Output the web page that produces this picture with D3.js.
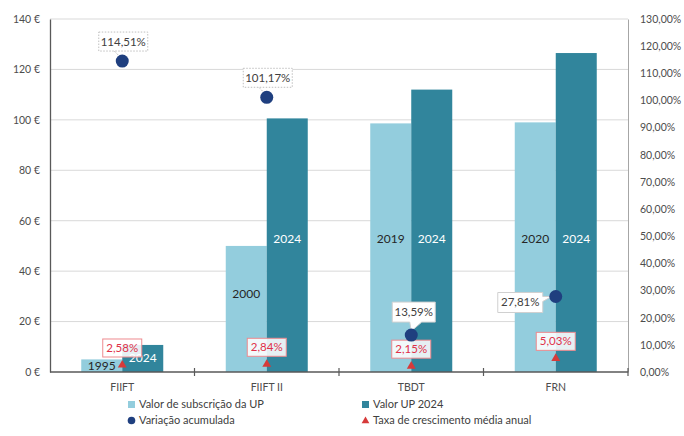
<!DOCTYPE html>
<html>
<head>
<meta charset="utf-8">
<script src="https://cdn.jsdelivr.net/npm/d3@7"></script>
<style>
  html, body { margin: 0; padding: 0; background: #fff; }
  svg { display: block; font-family: Lato, "Open Sans", sans-serif; }
</style>
</head>
<body>
<svg id="chart" width="684" height="436"></svg>
<script>
// Fundos: valor de subscrição da UP vs. valor em 2024
const categories = ["FIIFT", "FIIFT II", "TBDT", "FRN"];
const startYears = ["1995", "2000", "2019", "2020"];
const endYear = "2024";
const subscriptionValue = [5.00, 50.00, 98.6, 99.0];      // €
const value2024 = [10.73, 100.58, 112.0, 126.5];          // €
const cumulativeChange = [114.51, 101.17, 13.59, 27.81];  // %
const annualGrowth = [2.58, 2.84, 2.15, 5.03];            // %
const leftTicks = [0, 20, 40, 60, 80, 100, 120, 140];
const rightTicks = d3.range(0, 131, 10);

const svg = d3.select("#chart");
const m = { left: 50, right: 628, top: 19, bottom: 372 };

const x = d3.scaleBand().domain(categories).range([m.left, m.right]);
const yL = d3.scaleLinear().domain([0, 140]).range([m.bottom, m.top]);
const yR = d3.scaleLinear().domain([0, 130]).range([m.bottom, m.top]);
const barW = 41;

const fmtPct = v => v.toFixed(2).replace(".", ",") + "%";
const colLight = "#93cddd", colDark = "#31859c", colDot = "#1f3f7f", colTri = "#d63a3a";

// gridlines
svg.append("g").selectAll("line").data(leftTicks.filter(d => d > 0)).join("line")
  .attr("x1", m.left).attr("x2", m.right)
  .attr("y1", d => yL(d)).attr("y2", d => yL(d))
  .attr("stroke", "#d9d9d9").attr("stroke-width", 1);

// left axis
const gL = svg.append("g").attr("transform", `translate(${m.left},0)`)
  .call(d3.axisLeft(yL).tickValues(leftTicks).tickSize(0).tickPadding(10).tickFormat(d => d + " €"));
gL.select(".domain").attr("stroke", "#595959").attr("stroke-width", 1.3);
gL.selectAll("text").attr("fill", "#4d4d4d").style("font-size", "10.5px").style("font-family", "Lato, sans-serif");

// right axis
const gR = svg.append("g").attr("transform", `translate(${m.right},0)`)
  .call(d3.axisRight(yR).tickValues(rightTicks).tickSize(0).tickPadding(12).tickFormat(d => d.toFixed(2).replace(".", ",") + "%"));
gR.select(".domain").attr("stroke", "#a6a6a6").attr("stroke-width", 1);
gR.selectAll("text").attr("fill", "#4d4d4d").style("font-size", "10.5px").style("font-family", "Lato, sans-serif");

// bars
const groups = svg.append("g").selectAll("g").data(categories).join("g");
groups.append("rect")
  .attr("x", (d) => x(d) + x.bandwidth() / 2 - barW)
  .attr("width", barW)
  .attr("y", (d, i) => yL(subscriptionValue[i]))
  .attr("height", (d, i) => yL(0) - yL(subscriptionValue[i]))
  .attr("fill", colLight);
groups.append("rect")
  .attr("x", (d) => x(d) + x.bandwidth() / 2)
  .attr("width", barW)
  .attr("y", (d, i) => yL(value2024[i]))
  .attr("height", (d, i) => yL(0) - yL(value2024[i]))
  .attr("fill", colDark);

// year labels inside bars
const yearLabelY = (v, i, light) => {
  if (i === 0) return yL(v / 2) + 4;
  if (i === 1 && light) return yL(v / 2) - 11;
  return 239 + 4;
};
groups.append("text")
  .attr("x", d => x(d) + x.bandwidth() / 2 - barW / 2)
  .attr("y", (d, i) => yearLabelY(subscriptionValue[i], i, true))
  .attr("text-anchor", "middle").attr("fill", "#262626")
  .style("font-size", "12px")
  .text((d, i) => startYears[i]);
groups.append("text")
  .attr("x", d => x(d) + x.bandwidth() / 2 + barW / 2)
  .attr("y", (d, i) => yearLabelY(value2024[i], i, false))
  .attr("text-anchor", "middle").attr("fill", "#ffffff")
  .style("font-size", "12px")
  .text(endYear);

// bottom axis
const gB = svg.append("g").attr("transform", `translate(0,${m.bottom})`);
gB.append("line").attr("x1", m.left).attr("x2", m.right).attr("stroke", "#595959").attr("stroke-width", 1.3);
gB.selectAll(".tk").data(categories.slice(1).concat(["end"])).join("line")
  .attr("x1", (d, i) => m.left + x.step() * (i + 1)).attr("x2", (d, i) => m.left + x.step() * (i + 1))
  .attr("y1", -4).attr("y2", 4).attr("stroke", "#595959").attr("stroke-width", 1.2);
gB.selectAll("text").data(categories).join("text")
  .attr("x", d => x(d) + x.bandwidth() / 2).attr("y", 19)
  .attr("text-anchor", "middle").attr("fill", "#4d4d4d")
  .style("font-size", "10.5px").text(d => d);

// annual growth triangles + red labels
const tri = d3.symbol().type(d3.symbolTriangle).size(34);
const triG = svg.append("g").selectAll("g").data(categories).join("g");
triG.append("path")
  .attr("d", tri)
  .attr("transform", (d, i) => `translate(${x(d) + x.bandwidth() / 2},${yR(annualGrowth[i])})`)
  .attr("fill", colTri);
triG.append("rect")
  .attr("x", d => x(d) + x.bandwidth() / 2 - 19.5)
  .attr("y", (d, i) => yR(annualGrowth[i]) - 26)
  .attr("width", 39).attr("height", 18)
  .attr("fill", "rgba(255,255,255,0.88)")
  .attr("stroke", "#ee8a8f").attr("stroke-width", 1);
triG.append("text")
  .attr("x", d => x(d) + x.bandwidth() / 2)
  .attr("y", (d, i) => yR(annualGrowth[i]) - 13)
  .attr("text-anchor", "middle").attr("fill", "#e0314a")
  .style("font-size", "11.5px")
  .text((d, i) => fmtPct(annualGrowth[i]));

// cumulative change dots + labels
const dotX = d => x(d) + x.bandwidth() / 2;
const dotG = svg.append("g");
categories.forEach((c, i) => {
  const cx = dotX(c), cy = yR(cumulativeChange[i]);
  const label = fmtPct(cumulativeChange[i]);
  const w = 49, h = 19;
  if (i < 2) {
    // dotted box above with dashed leader
    const bx = cx + 1 - w / 2, by = cy - 29;
    dotG.append("line").attr("x1", cx - 8).attr("y1", by + h).attr("x2", cx - 2).attr("y2", cy - 4)
      .attr("stroke", "#bfbfbf").attr("stroke-dasharray", "2,1.5");
    dotG.append("rect").attr("x", bx).attr("y", by).attr("width", w).attr("height", h)
      .attr("fill", "#fff").attr("stroke", "#bfbfbf").attr("stroke-dasharray", "1.5,1.5");
    dotG.append("text").attr("x", bx + w / 2).attr("y", by + 14).attr("text-anchor", "middle")
      .attr("fill", "#404040").style("font-size", "11.5px").text(label);
  } else if (i === 2) {
    // callout above, pointer down to the dot
    const bx = cx + 3 - 22, by = cy - 33, bw = 43, bh = 20;
    const p = `M${bx},${by} h${bw} v${bh} h${-bw / 2 + 8} L${cx},${cy - 4} L${bx + bw / 2 - 4},${by + bh} H${bx} Z`;
    dotG.append("path").attr("d", p).attr("fill", "#fff").attr("stroke", "#d0d0d0");
    dotG.append("text").attr("x", bx + bw / 2).attr("y", by + 14).attr("text-anchor", "middle")
      .attr("fill", "#404040").style("font-size", "11.5px").text(label);
  } else {
    // callout to the left, pointer right to the dot
    const bw = 45, bh = 20, bx = cx - 58, by = cy - 4;
    const p = `M${bx},${by} h${bw} v4 L${cx - 4},${cy} L${bx + bw},${by + 9} V${by + bh} H${bx} Z`;
    dotG.append("path").attr("d", p).attr("fill", "#fff").attr("stroke", "#d0d0d0");
    dotG.append("text").attr("x", bx + bw / 2).attr("y", by + 14).attr("text-anchor", "middle")
      .attr("fill", "#404040").style("font-size", "11.5px").text(label);
  }
  dotG.append("circle").attr("cx", cx).attr("cy", cy).attr("r", 6.5).attr("fill", colDot);
});

// legend
const legend = [
  { label: "Valor de subscrição da UP", kind: "rect", color: colLight, x: 128, y: 408 },
  { label: "Valor UP 2024", kind: "rect", color: colDark, x: 362, y: 408 },
  { label: "Variação acumulada", kind: "circle", color: colDot, x: 128, y: 424 },
  { label: "Taxa de crescimento média anual", kind: "tri", color: colTri, x: 362, y: 424 }
];
const lg = svg.append("g").selectAll("g").data(legend).join("g")
  .attr("transform", d => `translate(${d.x},${d.y})`);
lg.each(function (d) {
  const g = d3.select(this);
  if (d.kind === "rect") g.append("rect").attr("x", 0).attr("y", -7).attr("width", 7).attr("height", 7).attr("fill", d.color);
  else if (d.kind === "circle") g.append("circle").attr("cx", 3.5).attr("cy", -3.5).attr("r", 3.8).attr("fill", d.color);
  else g.append("path").attr("d", d3.symbol().type(d3.symbolTriangle).size(26)).attr("transform", "translate(3.5,-3)").attr("fill", d.color);
  g.append("text").attr("x", 11).attr("y", 0).attr("fill", "#404040").style("font-size", "11px").text(d.label);
});
</script>
</body>
</html>
